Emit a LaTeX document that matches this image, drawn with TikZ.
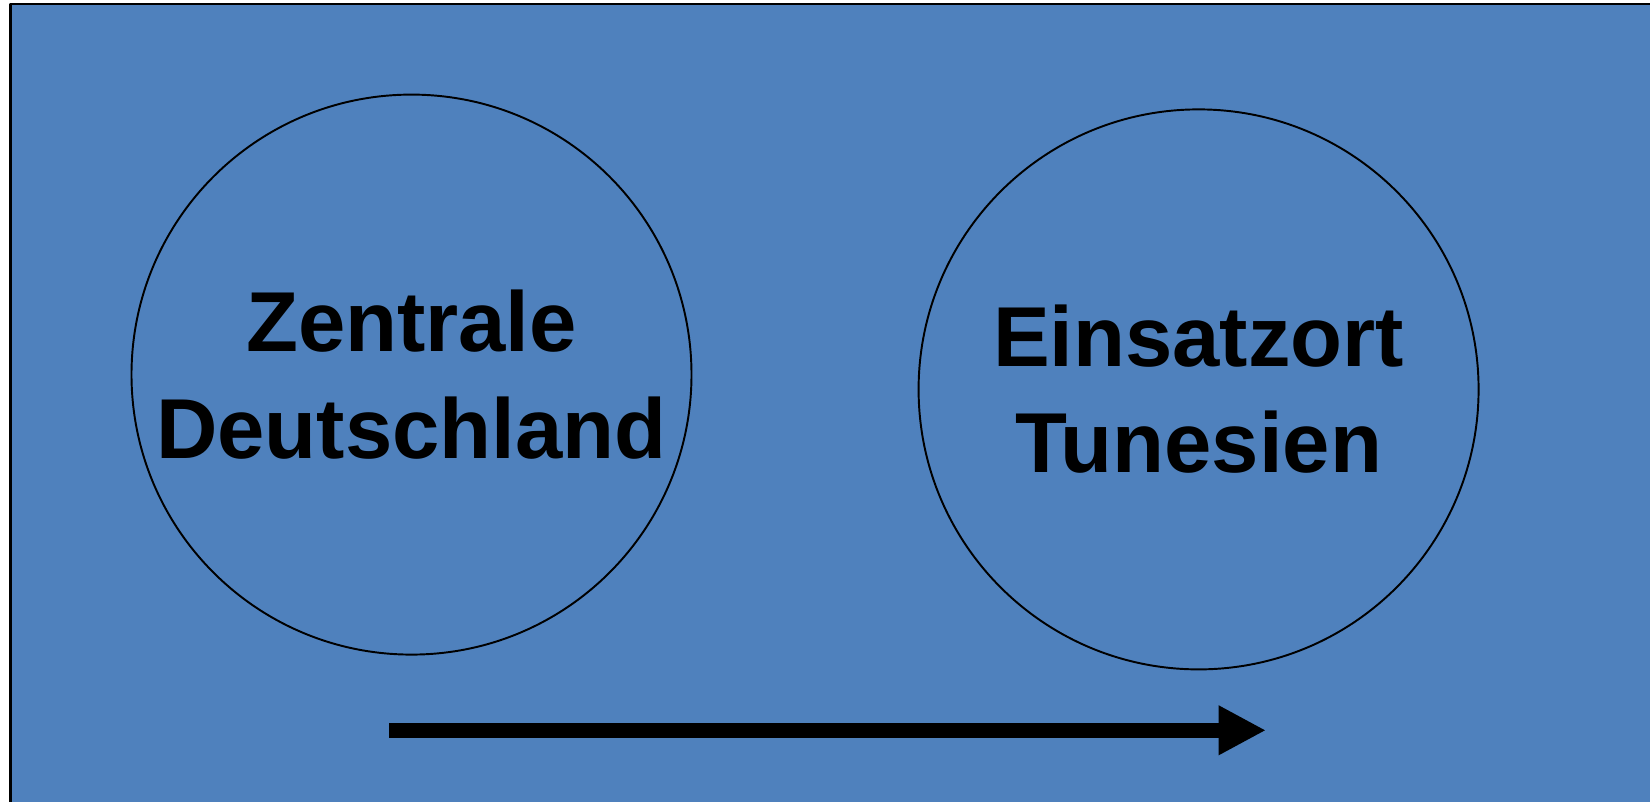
\documentclass[tikz,border=0pt]{standalone}
\usepackage{fontspec}
\setmainfont{Liberation Sans}
\usetikzlibrary{arrows.meta}
\definecolor{hgblau}{RGB}{79,129,189}
\begin{document}
\begin{tikzpicture}[line join=round,
	ort/.style={draw,circle,line width=0.55pt,minimum size=5.60cm,inner sep=0pt,align=center,
		font=\fontsize{24.2}{30.2}\selectfont\bfseries},
	pfeil/.style={-{Triangle[length=13.5pt,width=13.2pt]},line width=4.2pt}]
	\useasboundingbox (0,0) rectangle (16.5,8.02);
	\filldraw[fill=hgblau,draw=black,line width=0.6pt] (0.105,-0.2) rectangle (16.7,7.98);
	\path
	(4.115,4.274) node[ort] (zentrale) {Zentrale\\Deutschland}
	(11.986,4.126) node[ort] (einsatzort) {Einsatzort\\Tunesien}
	(3.894,0.717) coordinate (start)
	(12.66,0.717) coordinate (ziel)
	;
	\draw[pfeil] (start)--(ziel);
\end{tikzpicture}
\end{document}
